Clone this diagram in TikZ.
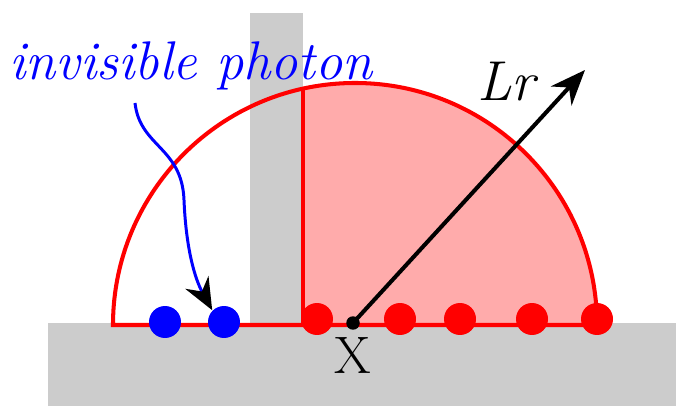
\documentclass[tikz,border=0pt]{standalone}
\usetikzlibrary{arrows.meta,positioning}

\begin{document}
\begin{tikzpicture}[x=0.02cm, y=0.02cm, thick]
    % Stili
    \tikzstyle{wall}=[fill=black!20, draw=none]
    \tikzstyle{reddot}=[circle, fill=red, inner sep=0pt, minimum size=0.64cm]
    \tikzstyle{bluedot}=[circle, fill=blue, inner sep=0pt, minimum size=0.64cm]
    \tikzstyle{arrow}=[-{Stealth[length=20pt,width=16pt]}, line width=2.3pt]
    \useasboundingbox (0,0) rectangle (676,409);

    % Pareti
    \path[wall] (48,3) rectangle (676,86);
    \path[wall] (250,86) rectangle (303,396);

    % Semicerchio
    \fill[red!33] (303,84) -- (303,320.3) arc[start angle=102.4, end angle=0, radius=242] -- cycle;
    \draw[red, line width=2.3pt] (113,84) arc[start angle=180, end angle=0, radius=242] -- cycle;
    \draw[red, line width=2pt] (303,84) -- (303,320.3);

    % Nodi
    \node (b1) [bluedot] at (165,87) {};
    \node (b2) [bluedot] at (224,87) {};
    \node (r1) [reddot] at (317,90) {};
    \node (r2) [reddot] at (400,90) {};
    \node (r3) [reddot] at (460,90) {};
    \node (r4) [reddot] at (532,90) {};
    \node (r5) [reddot] at (597,90) {};
    \node (xdot) [circle, fill=black, inner sep=0pt, minimum size=0.27cm] at (353,86) {};
    \node (xlab) [below=0pt of xdot, font=\fontsize{30}{34}\selectfont] {X};
    \coordinate (tip) at (585,339);
    \node (lr) [font=\fontsize{32}{36}\selectfont\itshape] at (506,327) {Lr};
    \node (photon) [text=blue, font=\fontsize{31}{36}\selectfont\itshape] at (191,343) {invisible photon};
    \coordinate (start) at (135,306);

    % Collegamenti
    \draw [arrow] (xdot.center) -- (tip);
    \draw [blue, line width=1.7pt, -{Stealth[length=18pt,width=15pt,black]}]
        (start) .. controls (140,262) and (182,262) .. (184,209)
        .. controls (186,160) and (195,130) .. (b2.north west);
\end{tikzpicture}
\end{document}
